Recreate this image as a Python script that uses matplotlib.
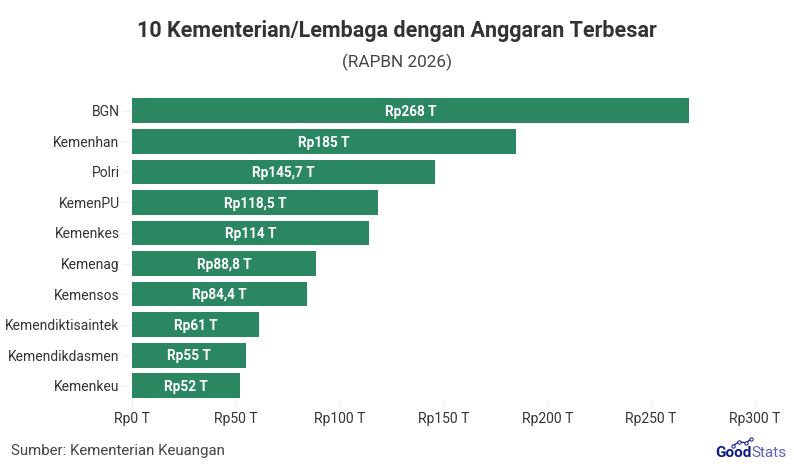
import matplotlib
matplotlib.use("Agg")
import matplotlib.pyplot as plt

categories = ["BGN","Kemenhan","Polri","KemenPU","Kemenkes","Kemenag","Kemensos","Kemendiktisaintek","Kemendikdasmen","Kemenkeu"]
values = [268,185,145.7,118.5,114,88.8,84.4,61,55,52]
value_labels = ["Rp268 T","Rp185 T","Rp145,7 T","Rp118,5 T","Rp114 T","Rp88,8 T","Rp84,4 T","Rp61 T","Rp55 T","Rp52 T"]
xticks = [0,50,100,150,200,250,300]
xticklabels = ["Rp0 T","Rp50 T","Rp100 T","Rp150 T","Rp200 T","Rp250 T","Rp300 T"]

plt.rcParams['font.family'] = ['Roboto','DejaVu Sans']
W,H = 794,472
fig = plt.figure(figsize=(W/100,H/100),dpi=100,facecolor='white')
L,R,T,B = 132,755,95.5,401
ax = fig.add_axes([L/W,1-B/H,(R-L)/W,(B-T)/H])
ypos = list(range(len(categories)))
ax.barh(ypos,values,height=0.81,color='#2a8761',zorder=3)
ax.set_ylim(len(categories)-0.5,-0.5)
ax.set_xlim(0,300)
for y,v,s in zip(ypos,values,value_labels):
    ax.text(v/2,y+0.04,s,color='white',fontsize=9.8,fontweight='bold',ha='center',va='center',zorder=4)
ax.set_yticks(ypos,categories,fontsize=10,color='#333333')
ax.set_xticks(xticks,xticklabels,fontsize=10,color='#333333')
ax.tick_params(axis='x',length=5,color='#f0f0f0',pad=3)
ax.tick_params(axis='y',length=7,color='#f0f0f0',pad=2)
for k,s in ax.spines.items():
    s.set_visible(k == 'left')
    s.set_color('#f0f0f0')
    s.set_zorder(1)
fig.text(397/W,1-31/H,"10 Kementerian/Lembaga dengan Anggaran Terbesar",ha='center',va='center',fontsize=15.5,fontweight='bold',color='#333333')
fig.text(397/W,1-62/H,"(RAPBN 2026)",ha='center',va='center',fontsize=12.3,color='#444444')
fig.text(11/W,1-451/H,"Sumber: Kementerian Keuangan",ha='left',va='center',fontsize=10.8,color='#444444')

# GoodStats logo
navy = '#0f1a8a'
t1 = fig.text(715/W,1-453/H,"Good",ha='left',va='center',fontsize=11,fontweight='bold',color=navy)
fig.canvas.draw()
x1 = t1.get_window_extent().x1
fig.text((x1+0.5)/W,1-453/H,"Stats",ha='left',va='center',fontsize=11,color='#5a62b5')
lx = [733,739,746,751]
ly = [446,441.5,443,439]
fig.add_artist(plt.Line2D([x/W for x in lx],[1-y/H for y in ly],color=navy,lw=0.9,marker='o',ms=2.4,mfc='white',mec=navy,mew=0.7))
fig.savefig('out.png',dpi=100)
